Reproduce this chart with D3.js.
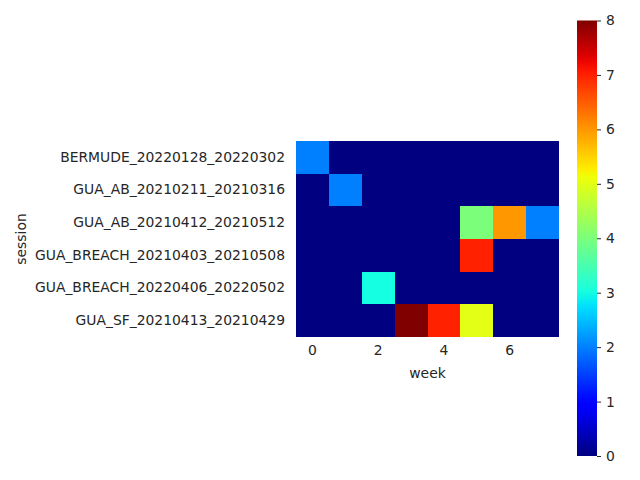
<!DOCTYPE html>
<html>
<head>
<meta charset="utf-8">
<script src="https://cdn.jsdelivr.net/npm/d3@7"></script>
<style>
  body { margin: 0; background: #fff; }
  svg { display: block; font-family: "DejaVu Sans", sans-serif; }
  text { fill: #262626; }
</style>
</head>
<body>
<div id="chart"></div>
<script>
// data
const sessions = [
  'BERMUDE_20220128_20220302',
  'GUA_AB_20210211_20210316',
  'GUA_AB_20210412_20210512',
  'GUA_BREACH_20210403_20210508',
  'GUA_BREACH_20220406_20220502',
  'GUA_SF_20210413_20210429'
];
const weeks = [0, 1, 2, 3, 4, 5, 6, 7];
const weekTicks = [0, 2, 4, 6];
const counts = [
  [2, 0, 0, 0, 0, 0, 0, 0],
  [0, 2, 0, 0, 0, 0, 0, 0],
  [0, 0, 0, 0, 0, 4, 6, 2],
  [0, 0, 0, 0, 0, 7, 0, 0],
  [0, 0, 3, 0, 0, 0, 0, 0],
  [0, 0, 0, 8, 7, 5, 0, 0]
];
const colorTicks = [0, 1, 2, 3, 4, 5, 6, 7, 8];

// matplotlib "jet"
function seg(pts, t) {
  for (let i = 1; i < pts.length; i++) {
    if (t <= pts[i][0]) {
      const [x0, y0] = pts[i - 1], [x1, y1] = pts[i];
      return y0 + (y1 - y0) * (t - x0) / (x1 - x0);
    }
  }
  return pts[pts.length - 1][1];
}
const R = [[0, 0], [0.35, 0], [0.66, 1], [0.89, 1], [1, 0.5]];
const G = [[0, 0], [0.125, 0], [0.375, 1], [0.64, 1], [0.91, 0], [1, 0]];
const B = [[0, 0.5], [0.11, 1], [0.34, 1], [0.65, 0], [1, 0]];
function jet(t) {
  t = Math.max(0, Math.min(1, t));
  return d3.rgb(seg(R, t) * 255, seg(G, t) * 255, seg(B, t) * 255).formatHex();
}

const width = 640, height = 480;
const hm = { left: 296, top: 141, right: 559, bottom: 337 };

const svg = d3.select('#chart').append('svg')
  .attr('width', width).attr('height', height);

const x = d3.scaleBand().domain(weeks).range([hm.left, hm.right]);
const y = d3.scaleBand().domain(sessions).range([hm.top, hm.bottom]);
const color = d3.scaleSequential(jet).domain([0, 8]);

// cells, snapped to whole pixels so no seams show
const cells = [];
counts.forEach((row, i) => row.forEach((v, j) => cells.push({ s: sessions[i], w: weeks[j], v })));
const px = v => Math.round(v);
svg.append('g').attr('shape-rendering', 'crispEdges')
  .selectAll('rect').data(cells).join('rect')
  .attr('x', d => px(x(d.w)))
  .attr('y', d => px(y(d.s)))
  .attr('width', d => px(x(d.w) + x.bandwidth()) - px(x(d.w)))
  .attr('height', d => px(y(d.s) + y.bandwidth()) - px(y(d.s)))
  .attr('fill', d => color(d.v));

// axes (no tick marks, seaborn style)
const fs = '13.9px';
const xAxis = svg.append('g')
  .attr('transform', `translate(0, ${hm.bottom})`)
  .call(d3.axisBottom(x).tickValues(weekTicks).tickSize(0).tickPadding(8));
xAxis.select('.domain').remove();
xAxis.selectAll('text').style('font-size', fs).attr('fill', '#262626').attr('font-family', 'DejaVu Sans');

const yAxis = svg.append('g')
  .attr('transform', `translate(${hm.left}, 0)`)
  .call(d3.axisLeft(y).tickSize(0).tickPadding(11));
yAxis.select('.domain').remove();
yAxis.selectAll('text').style('font-size', fs).attr('fill', '#262626').attr('font-family', 'DejaVu Sans');

svg.append('text')
  .attr('x', (hm.left + hm.right) / 2).attr('y', 378)
  .attr('text-anchor', 'middle').style('font-size', fs)
  .text('week');

svg.append('text')
  .attr('transform', `translate(26, ${(hm.top + hm.bottom) / 2}) rotate(-90)`)
  .attr('text-anchor', 'middle').style('font-size', fs)
  .text('session');

// colorbar
const cb = { left: 577, right: 597, top: 20.5, bottom: 456 };
const cy = d3.scaleLinear().domain([0, 8]).range([cb.bottom, cb.top]);
const defs = svg.append('defs');
const grad = defs.append('linearGradient').attr('id', 'cbar')
  .attr('x1', '0%').attr('y1', '100%').attr('x2', '0%').attr('y2', '0%');
d3.range(0, 1.0001, 0.02).forEach(t => {
  grad.append('stop').attr('offset', `${t * 100}%`).attr('stop-color', jet(t));
});
svg.append('rect')
  .attr('x', cb.left).attr('y', cb.top)
  .attr('width', cb.right - cb.left).attr('height', cb.bottom - cb.top)
  .attr('fill', 'url(#cbar)');

const cAxis = svg.append('g')
  .attr('transform', `translate(${cb.right}, 0)`)
  .call(d3.axisRight(cy).tickValues(colorTicks).tickSize(4).tickPadding(5).tickFormat(d3.format('d')));
cAxis.select('.domain').remove();
cAxis.selectAll('line').attr('stroke', '#262626').attr('stroke-width', 1);
cAxis.selectAll('text').style('font-size', fs).attr('fill', '#262626').attr('font-family', 'DejaVu Sans');
</script>
</body>
</html>
